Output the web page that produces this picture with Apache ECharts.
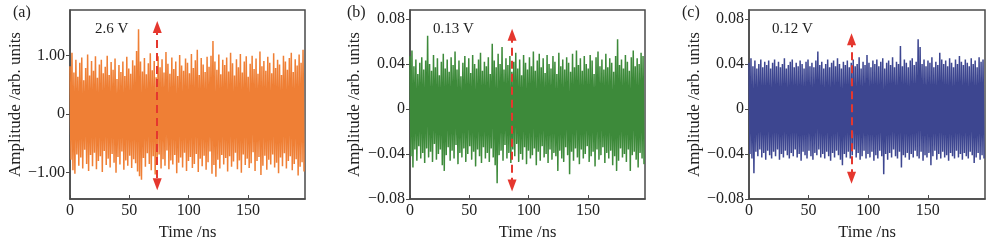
<!DOCTYPE html>
<html>
<head>
<meta charset="utf-8">
<script src="https://cdn.jsdelivr.net/npm/echarts@6/dist/echarts.min.js"></script>
<style>
  html, body { margin: 0; padding: 0; background: #fff; }
  #chart { width: 1000px; height: 240px; }
</style>
</head>
<body>
<div id="chart"></div>
<script>
// time span of each record (ns)
const timeSpan = 198;

// panel (a): upper and lower excursions of each noise cycle
const peaksA = [
  0.82, 1.05, 0.71, 0.93, 0.64, 0.88, 0.97, 0.58, 0.79, 1.02,
  0.66, 0.91, 0.74, 0.99, 0.62, 0.85, 0.93, 0.70, 0.81, 1.00,
  0.67, 0.89, 0.76, 0.95, 0.60, 0.84, 0.72, 0.90, 0.65, 0.98,
  0.78, 0.69, 0.92, 0.83, 1.08, 1.45, 0.90, 0.73, 0.96, 0.68,
  0.87, 1.04, 0.75, 0.91, 0.63, 0.99, 0.80, 0.94, 0.71, 1.06,
  0.86, 0.69, 0.97, 0.77, 0.90, 0.65, 1.01, 0.83, 0.74, 0.95,
  0.88, 0.70, 1.03, 0.79, 0.92, 1.10, 0.67, 0.96, 0.85, 0.72,
  0.98, 0.81, 1.00, 1.25, 0.90, 0.76, 1.02, 0.68, 0.93, 0.84,
  0.97, 0.73, 1.05, 0.87, 0.66, 0.94, 0.80, 1.03, 0.71, 0.90,
  0.99, 0.64, 0.86, 1.00, 0.77, 0.95, 0.69, 1.07, 0.82, 0.91,
  0.74, 0.98, 0.88, 0.70, 1.04, 0.79, 0.93, 0.85, 0.67, 1.00,
  0.90, 0.76, 0.96, 1.05, 0.72, 0.94, 0.83, 1.02, 0.88, 1.10
];
const troughsA = [
  -0.78, -0.96, -1.02, -0.69, -0.88, -0.74, -0.93, -0.61, -0.85, -0.97,
  -0.70, -0.89, -0.66, -0.94, -0.80, -0.72, -0.99, -0.63, -0.87, -0.76,
  -0.91, -0.68, -0.83, -1.00, -0.73, -0.86, -0.64, -0.95, -0.79, -0.88,
  -0.71, -0.92, -0.77, -0.84, -0.98, -1.06, -1.12, -0.75, -0.90, -0.67,
  -0.85, -0.96, -0.72, -1.03, -0.81, -0.69, -0.93, -0.77, -0.88, -0.62,
  -0.94, -0.79, -0.86, -0.70, -1.01, -0.83, -0.74, -0.91, -0.66, -0.97,
  -0.80, -0.73, -0.92, -0.85, -0.68, -0.99, -0.76, -0.89, -0.71, -0.95,
  -0.82, -0.64, -1.02, -0.87, -1.07, -0.78, -0.93, -0.70, -0.86, -0.75,
  -0.98, -0.72, -0.90, -0.81, -0.66, -0.94, -0.79, -1.00, -0.69, -0.87,
  -0.76, -0.92, -0.84, -0.65, -0.97, -0.80, -0.73, -1.04, -0.88, -0.71,
  -0.95, -0.78, -0.86, -0.69, -0.91, -0.83, -1.01, -0.74, -0.89, -0.67,
  -0.93, -0.80, -0.72, -0.96, -0.85, -0.77, -1.05, -0.90, -0.82, -0.98
];

// panel (b)
const peaksB = [
  0.047, 0.052, 0.038, 0.044, 0.031, 0.041, 0.046, 0.035, 0.043, 0.065,
  0.040, 0.034, 0.048, 0.037, 0.045, 0.030, 0.042, 0.049, 0.036, 0.044,
  0.033, 0.046, 0.039, 0.051, 0.035, 0.043, 0.029, 0.041, 0.047, 0.037,
  0.045, 0.032, 0.048, 0.040, 0.036, 0.044, 0.050, 0.034, 0.042, 0.038,
  0.046, 0.031, 0.058, 0.043, 0.037, 0.049, 0.040, 0.055, 0.035, 0.045,
  0.039, 0.047, 0.033, 0.042, 0.050, 0.036, 0.044, 0.030, 0.048, 0.041,
  0.035, 0.046, 0.038, 0.051, 0.034, 0.043, 0.049, 0.037, 0.045, 0.032,
  0.048, 0.040, 0.036, 0.047, 0.042, 0.031, 0.050, 0.038, 0.044, 0.035,
  0.046, 0.041, 0.033, 0.049, 0.037, 0.052, 0.039, 0.045, 0.034, 0.047,
  0.040, 0.036, 0.048, 0.043, 0.031, 0.046, 0.051, 0.038, 0.044, 0.035,
  0.049, 0.037, 0.045, 0.041, 0.033, 0.047, 0.062, 0.039, 0.044, 0.036,
  0.048, 0.042, 0.034, 0.046, 0.052, 0.038, 0.045, 0.040, 0.050, 0.047
];
const troughsB = [
  -0.042, -0.052, -0.036, -0.046, -0.033, -0.044, -0.039, -0.048, -0.035, -0.043,
  -0.038, -0.047, -0.031, -0.045, -0.040, -0.036, -0.050, -0.055, -0.041, -0.034,
  -0.046, -0.037, -0.044, -0.032, -0.049, -0.039, -0.043, -0.035, -0.047, -0.040,
  -0.033, -0.045, -0.038, -0.051, -0.036, -0.042, -0.048, -0.034, -0.044, -0.039,
  -0.047, -0.035, -0.043, -0.050, -0.066, -0.041, -0.037, -0.046, -0.032, -0.044,
  -0.039, -0.048, -0.036, -0.042, -0.031, -0.047, -0.040, -0.045, -0.034, -0.049,
  -0.037, -0.044, -0.041, -0.035, -0.050, -0.038, -0.046, -0.033, -0.043, -0.040,
  -0.048, -0.036, -0.045, -0.039, -0.042, -0.055, -0.037, -0.044, -0.047, -0.034,
  -0.041, -0.058, -0.038, -0.046, -0.035, -0.043, -0.049, -0.036, -0.044, -0.040,
  -0.033, -0.047, -0.042, -0.038, -0.051, -0.036, -0.045, -0.041, -0.034, -0.048,
  -0.039, -0.044, -0.037, -0.050, -0.042, -0.055, -0.046, -0.035, -0.043, -0.040,
  -0.047, -0.036, -0.055, -0.041, -0.038, -0.045, -0.052, -0.039, -0.044, -0.049
];

// panel (c)
const peaksC = [
  0.041, 0.045, 0.038, 0.043, 0.036, 0.040, 0.044, 0.037, 0.042, 0.039,
  0.043, 0.036, 0.041, 0.044, 0.038, 0.042, 0.037, 0.040, 0.045, 0.036,
  0.039, 0.042, 0.044, 0.037, 0.041, 0.038, 0.043, 0.040, 0.036, 0.042,
  0.044, 0.038, 0.041, 0.037, 0.043, 0.051, 0.039, 0.042, 0.036, 0.040,
  0.044, 0.037, 0.041, 0.043, 0.038, 0.045, 0.040, 0.036, 0.042, 0.039,
  0.043, 0.037, 0.041, 0.044, 0.038, 0.040, 0.046, 0.036, 0.042, 0.039,
  0.048, 0.041, 0.037, 0.043, 0.040, 0.044, 0.038, 0.042, 0.045, 0.036,
  0.041, 0.043, 0.039, 0.046, 0.037, 0.042, 0.040, 0.056, 0.038, 0.044,
  0.041, 0.037, 0.043, 0.045, 0.039, 0.042, 0.062, 0.055, 0.040, 0.044,
  0.038, 0.043, 0.041, 0.046, 0.037, 0.042, 0.039, 0.050, 0.044, 0.040,
  0.043, 0.038, 0.045, 0.041, 0.037, 0.044, 0.040, 0.047, 0.042, 0.039,
  0.044, 0.041, 0.038, 0.045, 0.040, 0.043, 0.037, 0.046, 0.042, 0.044
];
const troughsC = [
  -0.040, -0.044, -0.057, -0.038, -0.042, -0.036, -0.043, -0.039, -0.045, -0.037,
  -0.041, -0.044, -0.038, -0.042, -0.036, -0.045, -0.040, -0.043, -0.037, -0.041,
  -0.044, -0.039, -0.042, -0.036, -0.043, -0.040, -0.046, -0.038, -0.041, -0.044,
  -0.037, -0.042, -0.045, -0.039, -0.041, -0.036, -0.043, -0.040, -0.044, -0.038,
  -0.042, -0.046, -0.039, -0.043, -0.037, -0.041, -0.045, -0.050, -0.040, -0.043,
  -0.038, -0.044, -0.041, -0.036, -0.043, -0.039, -0.045, -0.042, -0.037, -0.044,
  -0.040, -0.043, -0.038, -0.046, -0.041, -0.044, -0.037, -0.042, -0.058, -0.040,
  -0.045, -0.039, -0.043, -0.036, -0.042, -0.044, -0.038, -0.052, -0.041, -0.043,
  -0.039, -0.045, -0.040, -0.043, -0.037, -0.042, -0.044, -0.038, -0.046, -0.041,
  -0.043, -0.039, -0.050, -0.042, -0.037, -0.045, -0.040, -0.044, -0.038, -0.043,
  -0.041, -0.046, -0.039, -0.042, -0.044, -0.037, -0.043, -0.040, -0.045, -0.039,
  -0.042, -0.044, -0.038, -0.041, -0.048, -0.043, -0.039, -0.045, -0.041, -0.044
];

const xTicks = [0, 50, 100, 150];
const yTicksA = [-1, 0, 1];
const yTicksBC = [-0.08, -0.04, 0, 0.04, 0.08];
const panelTags = ['(a)', '(b)', '(c)'];
const amplitudes = ['2.6 V', '0.13 V', '0.12 V'];
// arrow position: [time, top, bottom]
const arrowA = [73.5, 1.49, -1.2];
const arrowB = [86, 0.066, -0.068];
const arrowC = [86, 0.062, -0.061];

// interleave upper/lower excursions into one trace
function trace(peaks, troughs) {
  const dt = timeSpan / peaks.length;
  const out = [];
  for (let i = 0; i < peaks.length; i++) {
    out.push([i * dt, peaks[i]]);
    out.push([i * dt + dt / 2, troughs[i]]);
  }
  return out;
}

const serif = '"Liberation Serif", serif';
const axisColor = '#4a4a4a';
const grids = [
  {left: 70, width: 235, top: 10, height: 189},
  {left: 410, width: 235, top: 10, height: 189},
  {left: 749, width: 236, top: 10, height: 189}
];

function fmt(v, digits) {
  if (v === 0) return '0';
  return (v < 0 ? '\u2212' : '') + Math.abs(v).toFixed(digits);
}

const xAxes = grids.map((g, i) => ({
  type: 'value', gridIndex: i, min: 0, max: timeSpan,
  name: 'Time /ns', nameLocation: 'middle', nameGap: 20,
  nameTextStyle: {fontFamily: serif, fontSize: 16.5, color: '#222'},
  axisLine: {onZero: false, lineStyle: {color: axisColor, width: 1.5}},
  axisTick: {inside: true, length: 4, customValues: xTicks, lineStyle: {color: axisColor}},
  axisLabel: {customValues: xTicks, fontFamily: serif, fontSize: 16, color: '#222', margin: 4},
  splitLine: {show: false}
}));

const yRanges = [[-1.45, 1.78, yTicksA, 43], [-0.08, 0.088, yTicksBC, 46.5], [-0.08, 0.088, yTicksBC, 45]];
const yAxes = yRanges.map((r, i) => ({
  type: 'value', gridIndex: i, min: r[0], max: r[1],
  name: 'Amplitude /arb. units', nameLocation: 'middle', nameGap: r[3],
  nameTextStyle: {fontFamily: serif, fontSize: 17, color: '#222'},
  axisLine: {onZero: false, lineStyle: {color: axisColor, width: 1.5}},
  axisTick: {length: 4, customValues: r[2], lineStyle: {color: axisColor}},
  axisLabel: {customValues: r[2], fontFamily: serif, fontSize: 16, color: '#222', margin: 5,
    formatter: v => fmt(v, 2)},
  splitLine: {show: false}
}));

const red = '#e5372e';
function arrowLine(a) {
  return {
    silent: true, symbol: ['triangle', 'triangle'], symbolSize: [9, 12],
    lineStyle: {color: red, type: [8, 5], width: 2},
    label: {show: false},
    itemStyle: {color: red},
    data: [[{coord: [a[0], a[1]]}, {coord: [a[0], a[2]]}]]
  };
}

const colors = ['#ef7f35', '#3d8a3a', '#3d4690'];
const traces = [trace(peaksA, troughsA), trace(peaksB, troughsB), trace(peaksC, troughsC)];
const arrows = [arrowA, arrowB, arrowC];

const series = traces.map((d, i) => ({
  type: 'line', xAxisIndex: i, yAxisIndex: i, data: d,
  showSymbol: false, sampling: null, silent: true,
  lineStyle: {color: colors[i], width: 1.5},
  markLine: arrowLine(arrows[i])
}));

const textPos = [[95, 30], [433, 30], [772, 30]];
const tagPos = [[13, 14], [347, 14], [682, 14]];
const graphic = [];
panelTags.forEach((t, i) => {
  graphic.push({type: 'text', left: tagPos[i][0], top: tagPos[i][1] - 9,
    style: {text: t, font: '16px ' + serif, fill: '#222'}});
  graphic.push({type: 'text', left: textPos[i][0], top: textPos[i][1] - 8,
    style: {text: amplitudes[i], font: '15px ' + serif, fill: '#222'}, z: 10});
});

const chart = echarts.init(document.getElementById('chart'));
chart.setOption({
  animation: false,
  backgroundColor: '#fff',
  grid: grids.map(g => Object.assign({show: true, borderColor: axisColor, borderWidth: 1.5,
    backgroundColor: 'transparent', outerBoundsMode: 'none'}, g)),
  xAxis: xAxes,
  yAxis: yAxes,
  series: series,
  graphic: graphic
});
</script>
</body>
</html>
